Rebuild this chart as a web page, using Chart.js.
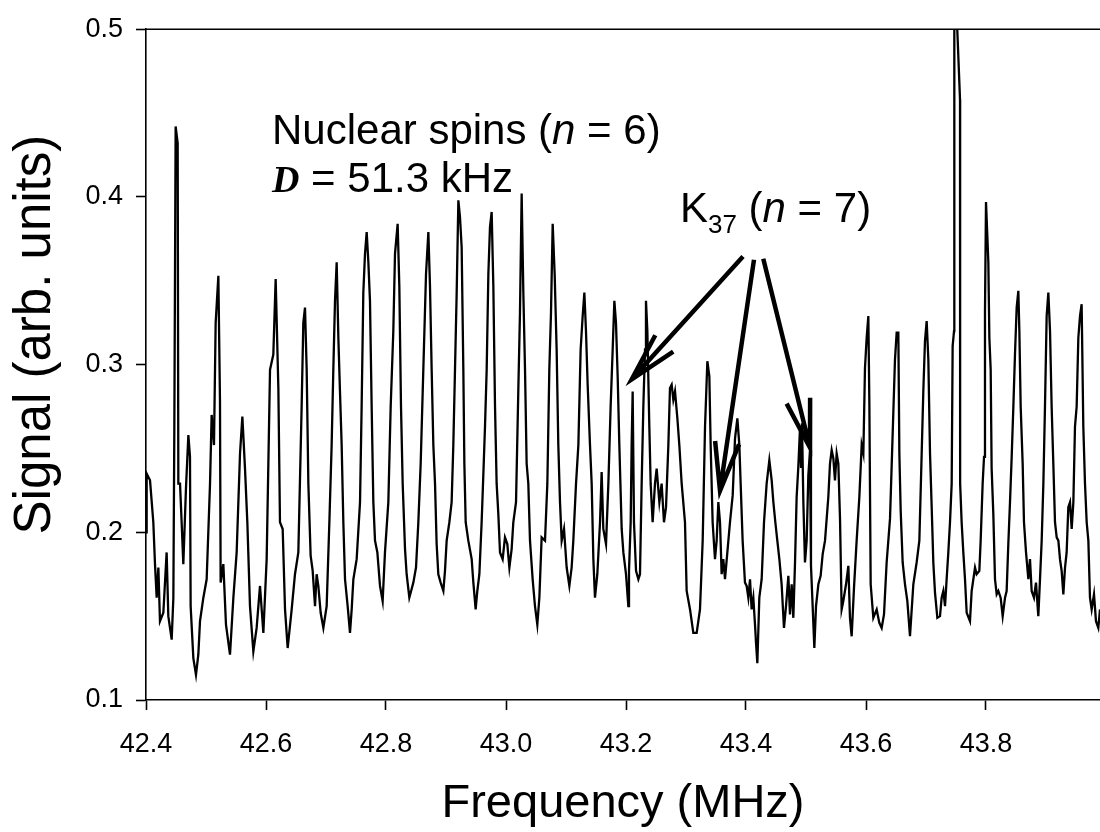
<!DOCTYPE html>
<html>
<head>
<meta charset="utf-8">
<title>Signal vs Frequency</title>
<script src="https://cdn.jsdelivr.net/npm/chart.js@4.4.0/dist/chart.umd.min.js"></script>
<style>
    body { margin: 0; background: #fff; }
    #wrap { width: 1100px; height: 832px; }
</style>
</head>
<body>
<div id="wrap"><canvas id="myChart" width="1100" height="832"></canvas></div>
<script>
// frequency (MHz) of each sample
let freq = [
    42.4000, 42.4011, 42.4067, 42.4122, 42.4150, 42.4178, 42.4206, 42.4233, 42.4289, 42.4344,
    42.4372, 42.4428, 42.4456, 42.4472, 42.4494, 42.4528, 42.4539, 42.4567, 42.4594, 42.4622,
    42.4667, 42.4706, 42.4733, 42.4744, 42.4789, 42.4833, 42.4872, 42.4900, 42.4956, 42.5011,
    42.5067, 42.5094, 42.5133, 42.5161, 42.5206, 42.5233, 42.5244, 42.5289, 42.5333, 42.5400,
    42.5456, 42.5511, 42.5567, 42.5606, 42.5650, 42.5689, 42.5733, 42.5789, 42.5844, 42.5900,
    42.5956, 42.6011, 42.6067, 42.6122, 42.6161, 42.6206, 42.6233, 42.6278, 42.6317, 42.6361,
    42.6428, 42.6483, 42.6539, 42.6594, 42.6622, 42.6650, 42.6678, 42.6706,
    42.6744, 42.6778, 42.6817, 42.6844, 42.6872, 42.6911, 42.6956, 42.7011, 42.7056, 42.7094,
    42.7122, 42.7150, 42.7178, 42.7206, 42.7233, 42.7261, 42.7289, 42.7317, 42.7361, 42.7400,
    42.7428, 42.7456, 42.7511, 42.7567, 42.7594, 42.7622, 42.7650, 42.7678, 42.7706, 42.7733,
    42.7761, 42.7789, 42.7817, 42.7856, 42.7900, 42.7944, 42.7983, 42.8039, 42.8078, 42.8122,
    42.8150, 42.8194, 42.8222, 42.8250, 42.8278, 42.8317, 42.8344, 42.8389, 42.8456, 42.8500,
    42.8539, 42.8578, 42.8622, 42.8667, 42.8706, 42.8733, 42.8761, 42.8789, 42.8817, 42.8844,
    42.8872, 42.8911, 42.8956, 42.8983, 42.9011, 42.9056, 42.9094, 42.9122, 42.9150, 42.9178,
    42.9206, 42.9233, 42.9261, 42.9289,
    42.9306, 42.9328, 42.9372, 42.9428, 42.9456, 42.9494, 42.9522, 42.9556, 42.9594, 42.9622,
    42.9650, 42.9678, 42.9706, 42.9733, 42.9761, 42.9789, 42.9817, 42.9844, 42.9872, 42.9900,
    42.9944, 42.9983, 43.0022, 43.0056, 43.0094, 43.0122, 43.0167, 43.0206, 43.0233, 43.0261,
    43.0289, 43.0317, 43.0344, 43.0372, 43.0400, 43.0444, 43.0483, 43.0522, 43.0556, 43.0594,
    43.0650, 43.0689, 43.0722, 43.0750, 43.0778, 43.0811, 43.0844, 43.0872, 43.0900, 43.0928,
    43.0967, 43.1011, 43.1056, 43.1094, 43.1122, 43.1167, 43.1206, 43.1244, 43.1278, 43.1306,
    43.1333, 43.1361, 43.1400, 43.1428, 43.1456, 43.1483, 43.1522, 43.1567, 43.1594, 43.1622,
    43.1667, 43.1706, 43.1744, 43.1778, 43.1806, 43.1833, 43.1861, 43.1889, 43.1928, 43.1956,
    43.2000, 43.2039,
    43.2050, 43.2078, 43.2094, 43.2111, 43.2133, 43.2167, 43.2206, 43.2233, 43.2261, 43.2289,
    43.2317, 43.2333, 43.2356, 43.2389, 43.2411, 43.2444, 43.2483, 43.2511, 43.2556, 43.2594,
    43.2633, 43.2667, 43.2706, 43.2733, 43.2761, 43.2789, 43.2817, 43.2856, 43.2889, 43.2928,
    43.2983, 43.3011, 43.3067, 43.3122, 43.3178, 43.3233, 43.3278, 43.3317, 43.3356, 43.3389,
    43.3411, 43.3444, 43.3483, 43.3511, 43.3539, 43.3567, 43.3594, 43.3622, 43.3650, 43.3689,
    43.3733, 43.3778, 43.3817, 43.3856, 43.3889, 43.3911, 43.3944, 43.3983, 43.4011, 43.4039,
    43.4067, 43.4094, 43.4122, 43.4150, 43.4167, 43.4189, 43.4222, 43.4261, 43.4300, 43.4344,
    43.4389, 43.4428, 43.4456, 43.4489, 43.4522, 43.4556,
    43.4594, 43.4633, 43.4667, 43.4706, 43.4733, 43.4761, 43.4789, 43.4817, 43.4844, 43.4872,
    43.4900, 43.4917, 43.4933, 43.4956, 43.4983, 43.5011, 43.5039, 43.5067, 43.5083, 43.5111,
    43.5139, 43.5167, 43.5206, 43.5244, 43.5278, 43.5317, 43.5372, 43.5400, 43.5428, 43.5456,
    43.5483, 43.5511, 43.5539, 43.5567, 43.5594, 43.5622, 43.5667, 43.5706, 43.5733, 43.5761,
    43.5800, 43.5844, 43.5889, 43.5928, 43.5956, 43.5983, 43.6011, 43.6039, 43.6056, 43.6078,
    43.6122, 43.6178, 43.6222, 43.6261, 43.6300, 43.6344, 43.6400, 43.6456, 43.6483, 43.6511,
    43.6539, 43.6556, 43.6578, 43.6611, 43.6650, 43.6689, 43.6733, 43.6789, 43.6844, 43.6889,
    43.6928, 43.6956, 43.6983, 43.7011, 43.7039, 43.7067, 43.7094, 43.7122, 43.7150, 43.7189,
    43.7233, 43.7261, 43.7289, 43.7317, 43.7344, 43.7372, 43.7400, 43.7428, 43.7444, 43.7467,
    43.7472, 43.7567, 43.7569, 43.7594, 43.7622, 43.7650, 43.7678, 43.7733, 43.7761, 43.7789,
    43.7817, 43.7844, 43.7889, 43.7911, 43.7944, 43.7967, 43.7983, 43.8000, 43.8022, 43.8039,
    43.8056, 43.8078, 43.8094, 43.8122, 43.8150, 43.8178, 43.8206, 43.8244, 43.8278, 43.8317,
    43.8344, 43.8372, 43.8400, 43.8428, 43.8456, 43.8483, 43.8511, 43.8539, 43.8556, 43.8578,
    43.8611, 43.8633, 43.8667, 43.8706, 43.8733, 43.8761, 43.8800, 43.8833, 43.8872, 43.8900,
    43.8928, 43.8956, 43.8983, 43.9011, 43.9039, 43.9067, 43.9094, 43.9122, 43.9150, 43.9178,
    43.9206, 43.9233, 43.9261, 43.9289, 43.9317, 43.9344, 43.9372, 43.9400, 43.9428, 43.9456,
    43.9483, 43.9511, 43.9539, 43.9567, 43.9594, 43.9622, 43.9650, 43.9678, 43.9706, 43.9733,
    43.9761, 43.9800, 43.9833, 43.9872, 43.9900
];
// signal (arb. units), same order as freq
let signal = [
    0.200, 0.235, 0.231, 0.206, 0.181, 0.161, 0.179, 0.147, 0.152, 0.188,
    0.150, 0.136, 0.161, 0.261, 0.442, 0.432, 0.229, 0.229, 0.206, 0.181,
    0.227, 0.258, 0.245, 0.156, 0.125, 0.115, 0.127, 0.147, 0.161, 0.172,
    0.229, 0.270, 0.252, 0.325, 0.353, 0.279, 0.170, 0.181, 0.145, 0.127,
    0.161, 0.188, 0.247, 0.269, 0.238, 0.206, 0.156, 0.129, 0.143, 0.168,
    0.140, 0.184, 0.297, 0.306, 0.351, 0.286, 0.206, 0.202, 0.154, 0.131,
    0.154, 0.175, 0.188, 0.275, 0.325, 0.334, 0.297, 0.229,
    0.186, 0.177, 0.156, 0.175, 0.168, 0.152, 0.143, 0.156, 0.206, 0.252,
    0.297, 0.338, 0.361, 0.316, 0.284, 0.252, 0.206, 0.172, 0.156, 0.140,
    0.154, 0.172, 0.184, 0.218, 0.275, 0.343, 0.366, 0.379, 0.361, 0.338,
    0.275, 0.218, 0.195, 0.188, 0.168, 0.159, 0.188, 0.218, 0.275, 0.320,
    0.366, 0.384, 0.347, 0.275, 0.229, 0.190, 0.175, 0.161, 0.170, 0.179,
    0.206, 0.241, 0.297, 0.354, 0.379, 0.347, 0.297, 0.252, 0.229, 0.193,
    0.175, 0.170, 0.165, 0.177, 0.195, 0.206, 0.218, 0.252, 0.297, 0.343,
    0.398, 0.388, 0.370, 0.297,
    0.241, 0.206, 0.195, 0.184, 0.170, 0.154, 0.165, 0.175, 0.206, 0.234,
    0.263, 0.297, 0.354, 0.382, 0.391, 0.347, 0.275, 0.229, 0.211, 0.188,
    0.184, 0.197, 0.193, 0.179, 0.190, 0.206, 0.218, 0.286, 0.331, 0.402,
    0.343, 0.297, 0.241, 0.229, 0.195, 0.172, 0.156, 0.145, 0.161, 0.197,
    0.195, 0.229, 0.297, 0.331, 0.384, 0.354, 0.309, 0.252, 0.218, 0.195,
    0.202, 0.179, 0.168, 0.179, 0.195, 0.229, 0.252, 0.309, 0.329, 0.343,
    0.320, 0.288, 0.252, 0.229, 0.184, 0.161, 0.175, 0.206, 0.236, 0.202,
    0.193, 0.229, 0.275, 0.309, 0.338, 0.325, 0.293, 0.252, 0.202, 0.188,
    0.175, 0.156,
    0.177, 0.206, 0.252, 0.284, 0.206, 0.177, 0.172, 0.175, 0.229, 0.275,
    0.309, 0.338, 0.320, 0.263, 0.229, 0.206, 0.229, 0.238, 0.218, 0.229,
    0.206, 0.215, 0.252, 0.286, 0.288, 0.279, 0.284, 0.268, 0.252, 0.229,
    0.206, 0.165, 0.154, 0.140, 0.140, 0.154, 0.195, 0.263, 0.302, 0.293,
    0.252, 0.206, 0.184, 0.195, 0.218, 0.206, 0.175, 0.184, 0.172, 0.188,
    0.206, 0.222, 0.256, 0.268, 0.252, 0.229, 0.195, 0.170, 0.168, 0.161,
    0.172, 0.154, 0.161, 0.145, 0.134, 0.122, 0.161, 0.172, 0.206, 0.229,
    0.243, 0.231, 0.218, 0.206, 0.195, 0.184,
    0.169, 0.143, 0.156, 0.174, 0.151, 0.169, 0.149, 0.182, 0.221, 0.239,
    0.262, 0.239, 0.265, 0.218, 0.182, 0.195, 0.234, 0.249, 0.180, 0.156,
    0.131, 0.156, 0.169, 0.174, 0.187, 0.195, 0.221, 0.241, 0.249, 0.244,
    0.231, 0.247, 0.241, 0.208, 0.154, 0.159, 0.169, 0.180, 0.149, 0.138,
    0.167, 0.195, 0.221, 0.252, 0.247, 0.298, 0.316, 0.329, 0.277, 0.169,
    0.149, 0.154, 0.146, 0.143, 0.151, 0.182, 0.208, 0.272, 0.303, 0.319,
    0.319, 0.247, 0.213, 0.182, 0.169, 0.159, 0.138, 0.169, 0.182, 0.195,
    0.247, 0.285, 0.314, 0.326, 0.303, 0.247, 0.216, 0.182, 0.164, 0.149,
    0.150, 0.161, 0.165, 0.156, 0.172, 0.188, 0.206, 0.229, 0.311, 0.320,
    0.545, 0.458, 0.229, 0.206, 0.188, 0.172, 0.152, 0.147, 0.165, 0.172,
    0.179, 0.175, 0.177, 0.195, 0.229, 0.245, 0.331, 0.397, 0.377, 0.361,
    0.316, 0.297, 0.238, 0.211, 0.172, 0.163, 0.165, 0.161, 0.150, 0.161,
    0.165, 0.193, 0.218, 0.245, 0.275, 0.306, 0.334, 0.344, 0.320, 0.275,
    0.241, 0.206, 0.188, 0.172, 0.184, 0.165, 0.161, 0.170, 0.150, 0.172,
    0.195, 0.229, 0.275, 0.329, 0.343, 0.320, 0.275, 0.241, 0.206, 0.197,
    0.195, 0.184, 0.177, 0.163, 0.179, 0.188, 0.215, 0.218, 0.202, 0.218,
    0.263, 0.275, 0.316, 0.329, 0.336, 0.263, 0.229, 0.206, 0.195, 0.161,
    0.154, 0.163, 0.147, 0.143, 0.154
];
let xTicks = [42.4, 42.6, 42.8, 43.0, 43.2, 43.4, 43.6, 43.8];
let yTicks = [0.1, 0.2, 0.3, 0.4, 0.5];

const SANS = "'Liberation Sans', Arial, Helvetica, sans-serif";
const SERIF = "'Liberation Serif', 'Times New Roman', serif";
Chart.defaults.font.family = SANS;
Chart.defaults.color = '#000';

// draws pieces of text one after another (for italic n, subscripts...)
function drawRuns(ctx, x, y, runs) {
    ctx.textAlign = 'left';
    ctx.textBaseline = 'alphabetic';
    for (let r of runs) {
        ctx.font = r.font;
        ctx.fillText(r.text, x, y + (r.dy || 0));
        x += ctx.measureText(r.text).width;
    }
}

function drawArrow(ctx, x0, y0, x1, y1) {
    let ang = Math.atan2(y0 - y1, x0 - x1);
    let len = 50, spread = 14 * Math.PI / 180;
    ctx.beginPath();
    ctx.moveTo(x0, y0);
    ctx.lineTo(x1, y1);
    ctx.moveTo(x1 + len * Math.cos(ang - spread), y1 + len * Math.sin(ang - spread));
    ctx.lineTo(x1, y1);
    ctx.lineTo(x1 + len * Math.cos(ang + spread), y1 + len * Math.sin(ang + spread));
    ctx.stroke();
}

const notes = {
    id: 'notes',
    afterDraw(chart) {
        let ctx = chart.ctx;
        let xs = chart.scales.x, ys = chart.scales.y;
        let area = chart.chartArea;
        ctx.save();
        ctx.fillStyle = '#000';
        ctx.strokeStyle = '#000';

        // top frame line
        ctx.lineWidth = 1.6;
        ctx.beginPath();
        ctx.moveTo(area.left, area.top);
        ctx.lineTo(area.right, area.top);
        ctx.stroke();

        // y axis title (sits a bit above the middle of the axis)
        ctx.save();
        ctx.translate(50, (area.top + area.bottom) / 2 - 30);
        ctx.rotate(-Math.PI / 2);
        ctx.font = '51px ' + SANS;
        ctx.textAlign = 'center';
        ctx.textBaseline = 'alphabetic';
        ctx.fillText('Signal (arb. units)', 0, 0);
        ctx.restore();

        // nuclear spins label
        let nx = xs.getPixelForValue(42.61);
        drawRuns(ctx, nx, ys.getPixelForValue(0.4317), [
            { text: 'Nuclear spins (', font: '42px ' + SANS },
            { text: 'n', font: 'italic 42px ' + SANS },
            { text: ' = 6)', font: '42px ' + SANS }
        ]);
        drawRuns(ctx, nx, ys.getPixelForValue(0.4031), [
            { text: 'D', font: 'bold italic 38px ' + SERIF },
            { text: ' = 51.3 kHz', font: '42px ' + SANS }
        ]);

        // K37 label
        drawRuns(ctx, xs.getPixelForValue(43.29), ys.getPixelForValue(0.3853), [
            { text: 'K', font: '42px ' + SANS },
            { text: '37', font: '26px ' + SANS, dy: 11.5 },
            { text: ' (', font: '42px ' + SANS },
            { text: 'n', font: 'italic 42px ' + SANS },
            { text: ' = 7)', font: '42px ' + SANS }
        ]);

        // arrows to the K37 lines
        ctx.lineWidth = 4.5;
        ctx.lineCap = 'butt';
        ctx.lineJoin = 'miter';
        let arrows = [
            [43.395, 0.3645, 43.2095, 0.2912],
            [43.4133, 0.3625, 43.3567, 0.2248],
            [43.4288, 0.3631, 43.5067, 0.2504]
        ];
        for (let a of arrows) {
            drawArrow(ctx, xs.getPixelForValue(a[0]), ys.getPixelForValue(a[1]),
                xs.getPixelForValue(a[2]), ys.getPixelForValue(a[3]));
        }
        ctx.restore();
    }
};

let points = [];
for (let i = 0; i < freq.length; i++) {
    points.push({ x: freq[i], y: signal[i] });
}

var ctx = document.getElementById('myChart');
var chart = new Chart(ctx, {
    type: 'line',
    data: {
        datasets: [
            {
                label: 'Signal',
                data: points,
                borderColor: '#000',
                borderWidth: 2.3,
                pointRadius: 0,
                fill: false,
                tension: 0,
                clip: 0
            }
        ]
    },
    options: {
        responsive: false,
        animation: false,
        layout: { padding: { top: 27, right: 0, left: 0, bottom: 0 } },
        plugins: {
            legend: { display: false },
            tooltip: { enabled: false }
        },
        scales: {
            x: {
                type: 'linear',
                min: 42.4,
                max: 43.99,
                afterBuildTicks: s => { s.ticks = xTicks.map(v => ({ value: v })); },
                afterFit: s => { s.height = 132; },
                grid: { display: true, drawOnChartArea: false, drawTicks: true, tickLength: 10, tickWidth: 1.6, tickColor: '#000' },
                border: { display: true, color: '#000', width: 1.6 },
                ticks: {
                    color: '#000',
                    font: { size: 27 },
                    padding: 18,
                    maxRotation: 0,
                    autoSkip: false,
                    callback: v => Number(v).toFixed(1)
                },
                title: {
                    display: true,
                    text: 'Frequency (MHz)',
                    color: '#000',
                    font: { size: 47 },
                    padding: { top: 0, bottom: 0 }
                }
            },
            y: {
                type: 'linear',
                min: 0.1,
                max: 0.5,
                afterBuildTicks: s => { s.ticks = yTicks.map(v => ({ value: v })); },
                afterFit: s => { s.width = 146; },
                grid: { display: true, drawOnChartArea: false, drawTicks: true, tickLength: 10, tickWidth: 1.6, tickColor: '#000' },
                border: { display: true, color: '#000', width: 1.6 },
                ticks: {
                    color: '#000',
                    font: { size: 27 },
                    padding: 13,
                    autoSkip: false,
                    callback: v => Number(v).toFixed(1)
                }
            }
        }
    },
    plugins: [notes]
});
</script>
</body>
</html>
